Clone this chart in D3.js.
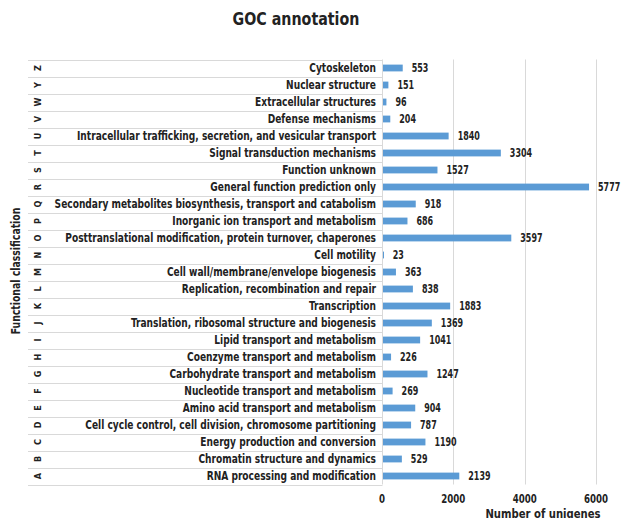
<!DOCTYPE html>
<html lang="en">
<head>
    <meta charset="UTF-8">
    <title>GOC annotation</title>
    <style>
        body { margin: 0; background: #fff; }
        text { font-family: "DejaVu Sans Condensed", "Open Sans", sans-serif; fill: #222; font-weight: bold; }
        .bar { fill: #5b9bd5; }
        .grid line { stroke: #d9d9d9; stroke-width: 1; }
        .row line { stroke: #d9d9d9; stroke-width: 1; }
    </style>
</head>
<body>
    <div id="chart"></div>
    <script src="https://cdn.jsdelivr.net/npm/d3@7"></script>
    <script>

        // categories top to bottom
        var letters = ["Z", "Y", "W", "V", "U", "T", "S", "R", "Q", "P", "O", "N", "M",
                       "L", "K", "J", "I", "H", "G", "F", "E", "D", "C", "B", "A"];

        var names = [
            "Cytoskeleton",
            "Nuclear structure",
            "Extracellular structures",
            "Defense mechanisms",
            "Intracellular trafficking, secretion, and vesicular transport",
            "Signal transduction mechanisms",
            "Function unknown",
            "General function prediction only",
            "Secondary metabolites biosynthesis, transport and catabolism",
            "Inorganic ion transport and metabolism",
            "Posttranslational modification, protein turnover, chaperones",
            "Cell motility",
            "Cell wall/membrane/envelope biogenesis",
            "Replication, recombination and repair",
            "Transcription",
            "Translation, ribosomal structure and biogenesis",
            "Lipid transport and metabolism",
            "Coenzyme transport and metabolism",
            "Carbohydrate transport and metabolism",
            "Nucleotide transport and metabolism",
            "Amino acid transport and metabolism",
            "Cell cycle control, cell division, chromosome partitioning",
            "Energy production and conversion",
            "Chromatin structure and dynamics",
            "RNA processing and modification"
        ];

        var counts = [553, 151, 96, 204, 1840, 3304, 1527, 5777, 918, 686, 3597, 23, 363,
                      838, 1883, 1369, 1041, 226, 1247, 269, 904, 787, 1190, 529, 2139];

        var xTicks = [0, 2000, 4000, 6000];

        var width = 621, height = 518;

        var svg = d3.select("#chart").append("svg")
            .attr("width", width)
            .attr("height", height);

        var plotLeft = 28, axisX = 382, plotTop = 59.5, plotBottom = 484.5;

        var x = d3.scaleLinear().domain([0, 6000]).range([axisX, 596]);

        var y = d3.scaleBand()
            .domain(d3.range(counts.length))
            .range([plotTop, plotBottom])
            .paddingInner(0.6)
            .paddingOuter(0.3);

        var rowY = d3.scaleBand().domain(d3.range(counts.length)).range([plotTop, plotBottom]);

        // narrow the glyphs a bit, the original font is a condensed one
        function squish(sel, k) {
            sel.each(function() {
                var w = this.getComputedTextLength();
                d3.select(this).attr("textLength", w * k).attr("lengthAdjust", "spacingAndGlyphs");
            });
        }

        // vertical gridlines
        svg.append("g").attr("class", "grid")
            .selectAll("line")
            .data(xTicks.slice(1))
            .enter().append("line")
            .attr("x1", d => Math.round(x(d)) + 0.5)
            .attr("x2", d => Math.round(x(d)) + 0.5)
            .attr("y1", plotTop)
            .attr("y2", plotBottom);

        // row separators of the category axis
        var rows = svg.append("g").attr("class", "row");
        rows.selectAll("line")
            .data(d3.range(counts.length + 1))
            .enter().append("line")
            .attr("x1", plotLeft)
            .attr("x2", axisX + 0.5)
            .attr("y1", d => Math.round(plotTop + d * rowY.step()) + 0.5)
            .attr("y2", d => Math.round(plotTop + d * rowY.step()) + 0.5);
        rows.append("line")
            .attr("x1", axisX + 0.5).attr("x2", axisX + 0.5)
            .attr("y1", plotTop).attr("y2", plotBottom);

        // bars
        svg.append("g").selectAll("rect")
            .data(counts)
            .enter().append("rect")
            .attr("class", "bar")
            .attr("x", x(0) + 1)
            .attr("y", (d, i) => y(i))
            .attr("width", d => Math.max(1, x(d) - x(0)))
            .attr("height", y.bandwidth());

        // value labels
        svg.append("g").selectAll("text")
            .data(counts)
            .enter().append("text")
            .attr("x", d => x(d) + 10)
            .attr("y", (d, i) => rowY(i) + rowY.bandwidth() / 2)
            .attr("dy", "0.35em")
            .style("font-size", "12px")
            .text(d => d)
            .call(squish, 0.74);

        // category names
        svg.append("g").selectAll("text")
            .data(names)
            .enter().append("text")
            .attr("x", 376)
            .attr("y", (d, i) => rowY(i) + rowY.bandwidth() / 2)
            .attr("dy", "0.35em")
            .attr("text-anchor", "end")
            .style("font-size", "12px")
            .text(d => d)
            .call(squish, 0.84);

        // class letters, rotated
        svg.append("g").selectAll("text")
            .data(letters)
            .enter().append("text")
            .attr("transform", (d, i) => "translate(38," + (rowY(i) + rowY.bandwidth() / 2) + ") rotate(-90)")
            .attr("text-anchor", "middle")
            .attr("dy", "0.35em")
            .style("font-size", "9px")
            .text(d => d);

        // x axis tick labels
        svg.append("g").selectAll("text")
            .data(xTicks)
            .enter().append("text")
            .attr("x", d => x(d))
            .attr("y", 503)
            .attr("text-anchor", "middle")
            .style("font-size", "12px")
            .text(d => d)
            .call(squish, 0.8);

        // titles
        svg.append("text")
            .attr("x", 296)
            .attr("y", 25)
            .attr("text-anchor", "middle")
            .style("font-size", "17px")
            .text("GOC annotation")
            .call(squish, 0.93);

        svg.append("text")
            .attr("x", 543)
            .attr("y", 518)
            .attr("text-anchor", "middle")
            .style("font-size", "13px")
            .text("Number of unigenes")
            .call(squish, 0.86);

        svg.append("text")
            .attr("transform", "translate(16,271) rotate(-90)")
            .attr("text-anchor", "middle")
            .attr("dy", "0.35em")
            .style("font-size", "11.5px")
            .text("Functional classification")
            .call(squish, 0.9);
    </script>
</body>
</html>
